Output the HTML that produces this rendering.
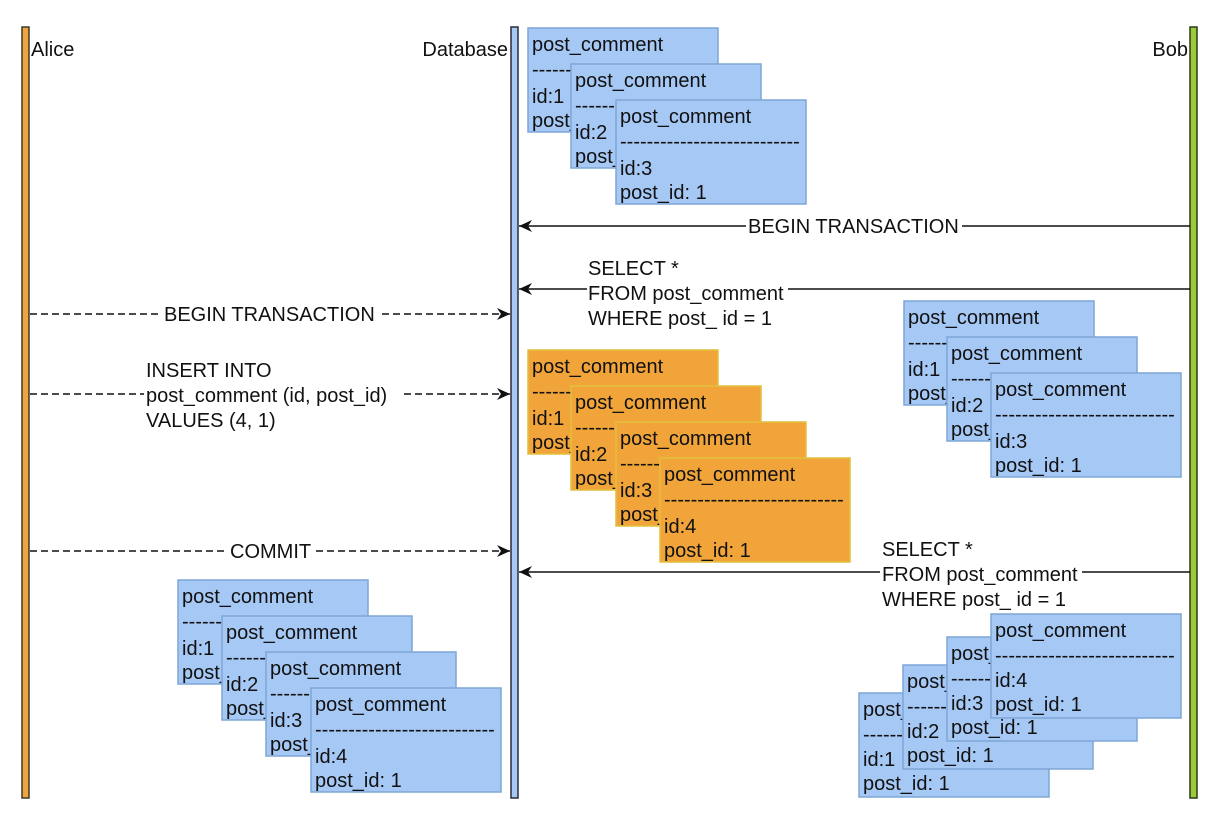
<!DOCTYPE html>
<html><head><meta charset="utf-8"><style>
html,body{margin:0;padding:0;background:#fff;}
svg{display:block;font-family:"Liberation Sans",Arial,sans-serif;}
text{font-size:20px;fill:#111;}
</style></head><body>
<svg width="1232" height="838" viewBox="0 0 1232 838" xmlns="http://www.w3.org/2000/svg">
<defs>
<marker id="ah" markerWidth="14" markerHeight="12" refX="13" refY="6" orient="auto" markerUnits="userSpaceOnUse">
<path d="M0,0 L13,6 L0,12 L4,6 Z" fill="#111"/></marker>
<g id="bb"><rect x="0" y="0" width="190" height="104" fill="#a6c8f5" stroke="#7fa6d6" stroke-width="1.5"/>
<text x="4" y="23">post_comment</text><text x="4" y="48">---------------------------</text></g>
<g id="ob"><rect x="0" y="0" width="190" height="104" fill="#f0a43a" stroke="#e2bf3c" stroke-width="1.5"/>
<text x="4" y="23">post_comment</text><text x="4" y="48">---------------------------</text></g>
</defs>

<!-- lifelines -->
<rect x="22" y="27" width="7" height="771" fill="#f0a43a" stroke="#3a3a2a" stroke-width="1.5"/>
<rect x="511" y="27" width="7" height="771" fill="#a6c8f5" stroke="#2a2a3a" stroke-width="1.5"/>
<rect x="1190" y="27" width="7" height="771" fill="#9ccb3a" stroke="#2a3a1a" stroke-width="1.5"/>
<text x="31" y="56">Alice</text>
<text x="508" y="56" text-anchor="end">Database</text>
<text x="1188" y="56" text-anchor="end">Bob</text>

<!-- top stack -->
<g transform="translate(528,28)"><use href="#bb"/><text x="4" y="75">id:1</text><text x="4" y="99">post_id: 1</text></g>
<g transform="translate(571,64)"><use href="#bb"/><text x="4" y="75">id:2</text><text x="4" y="99">post_id: 1</text></g>
<g transform="translate(616,100)"><use href="#bb"/><text x="4" y="75">id:3</text><text x="4" y="99">post_id: 1</text></g>

<!-- Bob BEGIN -->
<line x1="1190" y1="226" x2="519" y2="226" stroke="#111" stroke-width="1.5" marker-end="url(#ah)"/>
<rect x="746" y="214" width="216" height="24" fill="#fff"/>
<text x="748" y="233">BEGIN TRANSACTION</text>

<!-- Bob SELECT 1 -->
<line x1="1190" y1="289" x2="519" y2="289" stroke="#111" stroke-width="1.5" marker-end="url(#ah)"/>
<rect x="587" y="280" width="201" height="20" fill="#fff"/>
<text x="588" y="275">SELECT *</text>
<text x="588" y="300">FROM post_comment</text>
<text x="588" y="325">WHERE post_ id = 1</text>

<!-- right mid stack -->
<g transform="translate(904,301)"><use href="#bb"/><text x="4" y="75">id:1</text><text x="4" y="99">post_id: 1</text></g>
<g transform="translate(947,337)"><use href="#bb"/><text x="4" y="75">id:2</text><text x="4" y="99">post_id: 1</text></g>
<g transform="translate(991,373)"><use href="#bb"/><text x="4" y="75">id:3</text><text x="4" y="99">post_id: 1</text></g>

<!-- Alice BEGIN -->
<line x1="30" y1="314" x2="510" y2="314" stroke="#111" stroke-width="1.5" stroke-dasharray="7,4" marker-end="url(#ah)"/>
<rect x="162" y="302" width="216" height="24" fill="#fff"/>
<text x="164" y="321">BEGIN TRANSACTION</text>

<!-- Alice INSERT -->
<line x1="30" y1="394" x2="510" y2="394" stroke="#111" stroke-width="1.5" stroke-dasharray="7,4" marker-end="url(#ah)"/>
<rect x="144" y="384" width="256" height="20" fill="#fff"/>
<text x="146" y="377">INSERT INTO</text>
<text x="146" y="402">post_comment (id, post_id)</text>
<text x="146" y="427">VALUES (4, 1)</text>

<!-- orange stack -->
<g transform="translate(528,350)"><use href="#ob"/><text x="4" y="75">id:1</text><text x="4" y="99">post_id: 1</text></g>
<g transform="translate(571,386)"><use href="#ob"/><text x="4" y="75">id:2</text><text x="4" y="99">post_id: 1</text></g>
<g transform="translate(616,422)"><use href="#ob"/><text x="4" y="75">id:3</text><text x="4" y="99">post_id: 1</text></g>
<g transform="translate(660,458)"><use href="#ob"/><text x="4" y="75">id:4</text><text x="4" y="99">post_id: 1</text></g>

<!-- Alice COMMIT -->
<line x1="30" y1="551" x2="510" y2="551" stroke="#111" stroke-width="1.5" stroke-dasharray="7,4" marker-end="url(#ah)"/>
<rect x="228" y="540" width="86" height="22" fill="#fff"/>
<text x="230" y="558">COMMIT</text>

<!-- Bob SELECT 2 -->
<line x1="1190" y1="572" x2="519" y2="572" stroke="#111" stroke-width="1.5" marker-end="url(#ah)"/>
<rect x="880" y="562" width="202" height="20" fill="#fff"/>
<text x="882" y="556">SELECT *</text>
<text x="882" y="581">FROM post_comment</text>
<text x="882" y="606">WHERE post_ id = 1</text>

<!-- Alice bottom stack -->
<g transform="translate(178,580)"><use href="#bb"/><text x="4" y="75">id:1</text><text x="4" y="99">post_id: 1</text></g>
<g transform="translate(222,616)"><use href="#bb"/><text x="4" y="75">id:2</text><text x="4" y="99">post_id: 1</text></g>
<g transform="translate(266,652)"><use href="#bb"/><text x="4" y="75">id:3</text><text x="4" y="99">post_id: 1</text></g>
<g transform="translate(311,688)"><use href="#bb"/><text x="4" y="75">id:4</text><text x="4" y="99">post_id: 1</text></g>

<!-- Bob bottom stack -->
<g transform="translate(859,693)"><use href="#bb"/><text x="4" y="73">id:1</text><text x="4" y="97">post_id: 1</text></g>
<g transform="translate(903,665)"><use href="#bb"/><text x="4" y="73">id:2</text><text x="4" y="97">post_id: 1</text></g>
<g transform="translate(947,637)"><use href="#bb"/><text x="4" y="73">id:3</text><text x="4" y="97">post_id: 1</text></g>
<g transform="translate(991,614)"><use href="#bb"/><text x="4" y="73">id:4</text><text x="4" y="97">post_id: 1</text></g>
</svg>
</body></html>
